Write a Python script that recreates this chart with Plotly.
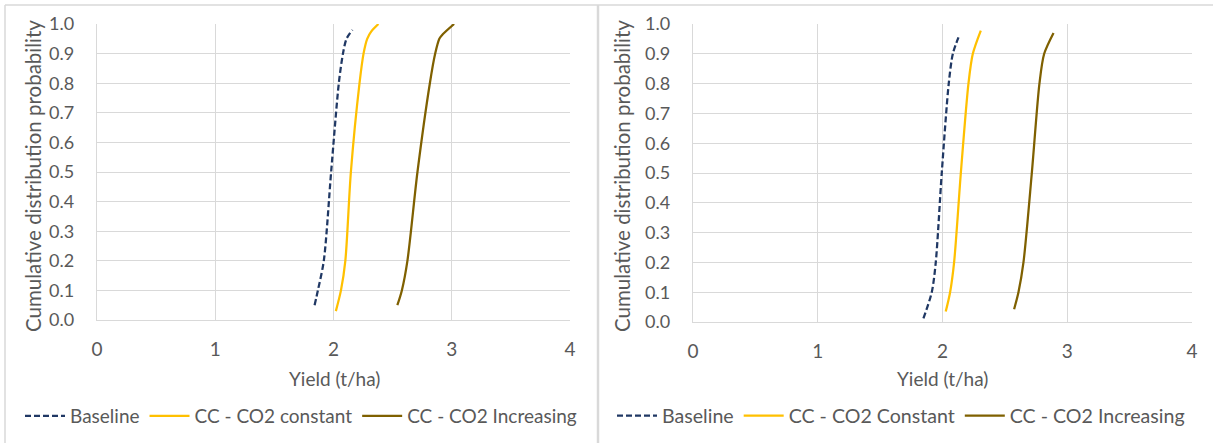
import plotly.graph_objects as go

# ---------------- data ----------------
# Left panel
left_base_yield = [1.84, 1.868, 1.918, 1.98, 2.045, 2.08, 2.11, 2.16]
left_base_prob = [0.05, 0.10, 0.20, 0.50, 0.80, 0.90, 0.95, 0.98]
left_const_yield = [2.02, 2.063, 2.10, 2.147, 2.22, 2.254, 2.285, 2.32, 2.38]
left_const_prob = [0.03, 0.10, 0.20, 0.50, 0.80, 0.90, 0.95, 0.975, 1.00]
left_inc_yield = [2.54, 2.578, 2.625, 2.71, 2.815, 2.86, 2.895, 2.924, 3.02]
left_inc_prob = [0.05, 0.10, 0.20, 0.50, 0.80, 0.90, 0.95, 0.965, 1.00]

# Right panel
right_base_yield = [1.847, 1.914, 1.946, 1.994, 2.05, 2.083, 2.128]
right_base_prob = [0.012, 0.10, 0.20, 0.50, 0.80, 0.90, 0.955]
right_const_yield = [2.026, 2.061, 2.093, 2.147, 2.208, 2.243, 2.307]
right_const_prob = [0.035, 0.10, 0.20, 0.50, 0.80, 0.90, 0.978]
right_inc_yield = [2.574, 2.609, 2.649, 2.716, 2.777, 2.815, 2.89]
right_inc_prob = [0.043, 0.10, 0.20, 0.50, 0.80, 0.90, 0.97]

x_ticks = [0, 1, 2, 3, 4]
y_ticks = [0.0, 0.1, 0.2, 0.3, 0.4, 0.5, 0.6, 0.7, 0.8, 0.9, 1.0]
left_names = ["Baseline", "CC - CO2 constant", "CC - CO2 Increasing"]
right_names = ["Baseline", "CC - CO2 Constant", "CC - CO2 Increasing"]
x_title = "Yield (t/ha)"
y_title = "Cumulative distribution probability"

# ---------------- styling ----------------
NAVY = "#203864"
YELLOW = "#FFC000"
BROWN = "#7F6000"
GRID = "#d9d9d9"
TXT = "#595959"
FONT = "Lato"
FS = 19
W, H = 1213, 443

fig = go.Figure()

def add_series(xs, ys, name, color, dash, xa, ya, legend):
    fig.add_trace(go.Scatter(
        x=xs, y=ys, name=name, mode="lines",
        line=dict(color=color, width=2.25, dash=dash, shape="spline", smoothing=0.8),
        xaxis=xa, yaxis=ya, legend=legend,
    ))

add_series(left_base_yield, left_base_prob, left_names[0], NAVY, "6px,3px", "x", "y", "legend")
add_series(left_const_yield, left_const_prob, left_names[1], YELLOW, "solid", "x", "y", "legend")
add_series(left_inc_yield, left_inc_prob, left_names[2], BROWN, "solid", "x", "y", "legend")
add_series(right_base_yield, right_base_prob, right_names[0], NAVY, "6px,3px", "x2", "y2", "legend2")
add_series(right_const_yield, right_const_prob, right_names[1], YELLOW, "solid", "x2", "y2", "legend2")
add_series(right_inc_yield, right_inc_prob, right_names[2], BROWN, "solid", "x2", "y2", "legend2")

def px_x(p):
    return p / W

def px_y(p):
    return 1 - p / H

xcommon = dict(range=[0, 4], tickvals=x_ticks, showgrid=True, gridcolor=GRID, gridwidth=1,
               zeroline=False, showline=True, linecolor=GRID, linewidth=1.3, ticks="",
               tickfont=dict(family=FONT, size=FS, color=TXT), ticklabelstandoff=12,
               automargin=False, fixedrange=True)
ycommon = dict(range=[0, 1], tickvals=y_ticks, tickformat=".1f", showgrid=True, gridcolor=GRID,
               gridwidth=1, zeroline=False, showline=True, linecolor=GRID, linewidth=1.3,
               ticks="", tickfont=dict(family=FONT, size=18, color=TXT), ticklabelstandoff=18,
               automargin=False, fixedrange=True)

legend_common = dict(orientation="h", xanchor="left", yanchor="middle",
                     bgcolor="rgba(0,0,0,0)", itemwidth=40, tracegroupgap=0)

fig.update_layout(
    width=W, height=H,
    margin=dict(l=0, r=0, t=0, b=0),
    paper_bgcolor="white", plot_bgcolor="white",
    font=dict(family=FONT, size=FS, color=TXT),
    xaxis=dict(domain=[px_x(97), px_x(570)], anchor="y", **xcommon),
    yaxis=dict(domain=[px_y(320), px_y(24)], anchor="x", **ycommon),
    xaxis2=dict(domain=[px_x(693), px_x(1192)], anchor="y2", **xcommon),
    yaxis2=dict(domain=[px_y(322), px_y(24)], anchor="x2", **ycommon),
    legend=dict(x=px_x(20), y=px_y(416), font=dict(family=FONT, size=19, color=TXT),
                **legend_common),
    legend2=dict(x=px_x(612), y=px_y(416), font=dict(family=FONT, size=19.6, color=TXT),
                 **legend_common),
    showlegend=True,
)

# axis titles
for cx, cy in [(335, 378), (942, 378)]:
    fig.add_annotation(text=x_title, x=px_x(cx), y=px_y(cy), xref="paper", yref="paper",
                       showarrow=False, xanchor="center", yanchor="middle",
                       font=dict(family=FONT, size=FS, color=TXT))
for cx, cy in [(33, 176), (622, 176)]:
    fig.add_annotation(text=y_title, x=px_x(cx), y=px_y(cy), xref="paper", yref="paper",
                       showarrow=False, xanchor="center", yanchor="middle", textangle=-90,
                       font=dict(family=FONT, size=20.5, color=TXT))

# panel borders
fig.add_shape(type="line", xref="paper", yref="paper", x0=px_x(5), x1=1, y0=px_y(5), y1=px_y(5),
              line=dict(color=GRID, width=1.5))
fig.add_shape(type="line", xref="paper", yref="paper", x0=px_x(5), x1=px_x(5), y0=0, y1=px_y(5),
              line=dict(color=GRID, width=1.5))
fig.add_shape(type="line", xref="paper", yref="paper", x0=px_x(598), x1=px_x(598), y0=0, y1=px_y(5),
              line=dict(color=GRID, width=2.5))

fig.write_html("out.html", config={"displayModeBar": False},
               post_script="document.body.style.margin='0';document.body.style.overflow='hidden';")
